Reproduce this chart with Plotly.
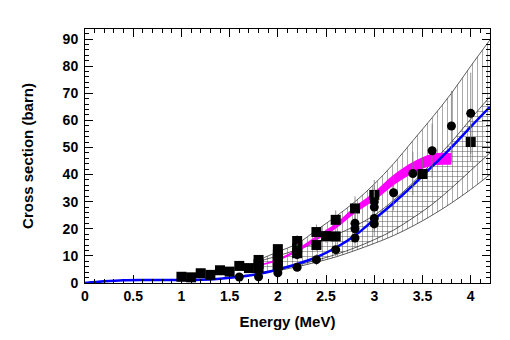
import plotly.graph_objects as go

# energy grid for the theory bands
band_x = [1.8, 2.0, 2.2, 2.4, 2.6, 2.8, 3.0, 3.2, 3.4, 3.6, 3.8, 4.0, 4.2]
outer_hi = [8.5, 11.5, 14.5, 19.5, 24.5, 30, 36.5, 44, 52.5, 61, 70, 80, 89.7]
outer_lo = [3.4, 4.6, 6.0, 7.7, 9.6, 12, 14.6, 17.5, 21, 25, 29.5, 34.5, 40]
inner_hi = [8.0, 10, 12.3, 14.8, 17.8, 21, 25, 30.5, 37, 44.5, 52, 60.5, 68.8]
inner_lo = [3.6, 5.0, 6.6, 8.4, 10.5, 13, 16, 19.5, 24, 29, 35, 41.5, 48]

# blue calculation
calc_x = [0, 0.2, 0.4, 0.6, 0.8, 1.0, 1.2, 1.4, 1.6, 1.8, 2.0, 2.2, 2.4, 2.6, 2.8,
          3.0, 3.2, 3.4, 3.6, 3.8, 4.0, 4.2]
calc_y = [0, 0.6, 1.0, 1.1, 1.1, 1.1, 1.2, 1.6, 2.3, 3.3, 5.0, 7.0, 9.5, 13, 17.5,
          23.5, 29.5, 36, 43, 50, 57.6, 65]

# magenta band
mag_x = [1.8, 2.0, 2.2, 2.4, 2.6, 2.8, 3.0, 3.2, 3.4, 3.6, 3.8]
mag_lo = [6.2, 8.1, 11.4, 15.7, 20.0, 25.7, 30.4, 36.1, 40.4, 43.3, 43.6]
mag_hi = [6.8, 8.9, 12.6, 17.3, 22.0, 28.3, 33.6, 39.9, 44.6, 47.7, 48.0]

# measurements
sq_x = [1.0, 1.1, 1.2, 1.3, 1.4, 1.5, 1.6, 1.7, 1.8, 1.8, 1.8, 2.0, 2.0, 2.0, 2.0,
        2.2, 2.2, 2.2, 2.4, 2.4, 2.5, 2.6, 2.6, 2.8, 3.0, 3.5, 4.0]
sq_y = [2.3, 2.1, 3.6, 3.0, 4.7, 4.2, 6.3, 5.5, 8.5, 7.0, 5.5, 12.5, 10.5, 8.5, 6.5,
        15.5, 13.0, 11.0, 18.8, 14.0, 17.3, 23.3, 17.2, 27.5, 32.5, 40.2, 52.0]
sq_err = [0.3, 0.3, 0.4, 0.4, 0.5, 0.5, 0.7, 0.6, 1.0, 0.8, 0.6, 1.6, 1.3, 1.0, 0.8,
          2.2, 1.8, 1.5, 2.8, 2.0, 2.5, 3.5, 2.5, 4.5, 5.5, 6, 7]

ci_x = [1.6, 1.8, 1.8, 2.0, 2.0, 2.2, 2.2, 2.2, 2.4, 2.6, 2.8, 2.8, 2.8, 3.0, 3.0,
        3.0, 3.0, 3.2, 3.4, 3.6, 3.8, 4.0]
ci_y = [2.2, 2.3, 5.5, 3.8, 7.0, 5.8, 10.5, 12.0, 8.6, 12.3, 16.6, 20.0, 22.0, 21.8,
        23.8, 28.0, 30.0, 33.3, 40.4, 48.8, 57.9, 62.6]
ci_err = [0.5, 0.5, 1, 0.8, 1.5, 1.2, 2, 2.5, 2, 2.5, 3.5, 4, 4, 4.5, 5, 6, 6, 6.5,
          8, 10, 13, 15]

fig = go.Figure()
edge = dict(color='#333333', width=0.8, shape='spline')

# outer band, vertical hatch
fig.add_trace(go.Scatter(x=band_x, y=outer_lo, mode='lines', line=edge))
fig.add_trace(go.Scatter(x=band_x, y=outer_hi, mode='lines', line=edge, fill='tonexty',
                         fillcolor='rgba(0,0,0,0)',
                         fillpattern=dict(shape='|', size=5, solidity=0.2,
                                          fgcolor='#555555', fillmode='overlay')))
# inner band, horizontal hatch
fig.add_trace(go.Scatter(x=band_x, y=inner_lo, mode='lines', line=edge))
fig.add_trace(go.Scatter(x=band_x, y=inner_hi, mode='lines', line=edge, fill='tonexty',
                         fillcolor='rgba(0,0,0,0)',
                         fillpattern=dict(shape='-', size=5, solidity=0.2,
                                          fgcolor='#555555', fillmode='overlay')))

# magenta
fig.add_trace(go.Scatter(x=mag_x, y=mag_lo, mode='lines',
                         line=dict(color='#ff00ff', width=0, shape='spline')))
fig.add_trace(go.Scatter(x=mag_x, y=mag_hi, mode='lines', fill='tonexty',
                         fillcolor='#ff00ff',
                         line=dict(color='#ff00ff', width=0, shape='spline')))

# blue
fig.add_trace(go.Scatter(x=calc_x, y=calc_y, mode='lines',
                         line=dict(color='#0000ff', width=2.5, shape='spline')))

fig.add_trace(go.Scatter(x=sq_x, y=sq_y, mode='markers',
                         marker=dict(symbol='square', size=10, color='black'),
                         error_y=dict(type='data', array=sq_err, color='#777777',
                                      thickness=0.8, width=0)))
fig.add_trace(go.Scatter(x=ci_x, y=ci_y, mode='markers',
                         marker=dict(symbol='circle', size=9, color='black'),
                         error_y=dict(type='data', array=ci_err, color='#777777',
                                      thickness=0.8, width=0)))

axfont = dict(family='Liberation Sans', size=14, color='black', weight='bold')
titlefont = dict(family='Liberation Sans', size=15, color='black', weight='bold')

# page body adds 8px, margins are set so the frame lands at 85..490 / 29..283
fig.update_layout(
    width=510, height=340,
    showlegend=False,
    plot_bgcolor='white', paper_bgcolor='white',
    margin=dict(l=77, r=28, t=21, b=65),
    xaxis=dict(range=[0, 4.2], dtick=0.5, tick0=0, showgrid=False, zeroline=False,
               showline=True, linecolor='black', linewidth=1, mirror='allticks',
               ticks='inside', ticklen=8, tickcolor='black',
               minor=dict(ticks='inside', dtick=0.1, ticklen=4, tickcolor='black'),
               tickfont=axfont,
               title=dict(text='Energy (MeV)', font=titlefont, standoff=13)),
    yaxis=dict(range=[0, 93.7], dtick=10, tick0=0, showgrid=False, zeroline=False,
               showline=True, linecolor='black', linewidth=1, mirror='allticks',
               ticks='inside', ticklen=8, tickcolor='black', ticklabelstandoff=3,
               minor=dict(ticks='inside', dtick=2, ticklen=4, tickcolor='black'),
               tickfont=axfont,
               title=dict(text='Cross section (barn)', font=titlefont, standoff=25)),
)

fig.write_html("out.html")
